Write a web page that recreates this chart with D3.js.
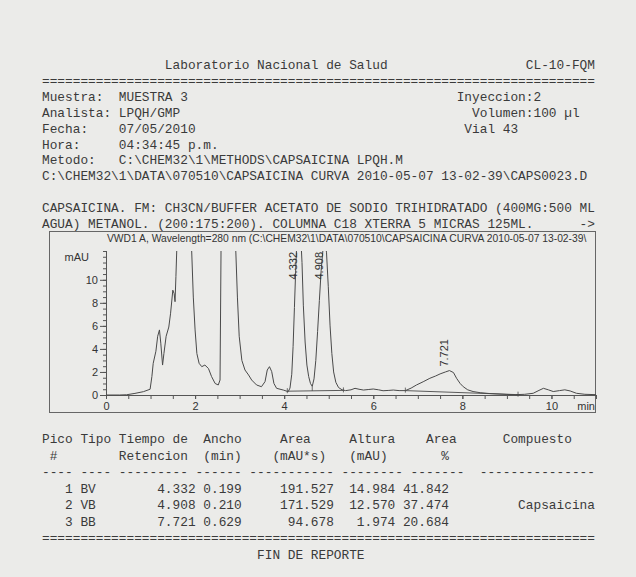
<!DOCTYPE html>
<html>
<head>
<meta charset="utf-8">
<script src="https://cdn.jsdelivr.net/npm/d3@7"></script>
<style>
  body { margin: 0; background: #ebebe9; }
  svg { display: block; }
  .mono { font-family: "Liberation Mono", "Courier New", monospace; font-size: 12.8px; fill: #3a3a3a; white-space: pre; }
  .sans { font-family: "Liberation Sans", Arial, sans-serif; fill: #333; }
</style>
</head>
<body>
<svg id="rep" width="636" height="577"></svg>
<script>
// report header lines (left column / right column)
const headerLeft = [
  "Muestra:  MUESTRA 3",
  "Analista: LPQH/GMP",
  "Fecha:    07/05/2010",
  "Hora:     04:34:45 p.m.",
  "Metodo:   C:\\CHEM32\\1\\METHODS\\CAPSAICINA LPQH.M",
  "C:\\CHEM32\\1\\DATA\\070510\\CAPSAICINA CURVA 2010-05-07 13-02-39\\CAPS0023.D"
];
const headerRight = ["Inyeccion:2", "  Volumen:100 µl", " Vial 43"];
const methodLines = [
  "CAPSAICINA. FM: CH3CN/BUFFER ACETATO DE SODIO TRIHIDRATADO (400MG:500 ML",
  "AGUA) METANOL. (200:175:200). COLUMNA C18 XTERRA 5 MICRAS 125ML.      ->"
];
const chartTitle = "VWD1 A, Wavelength=280 nm (C:\\CHEM32\\1\\DATA\\070510\\CAPSAICINA CURVA 2010-05-07 13-02-39\\";

// chromatogram trace (min, mAU)
const traceTime = [0.00, 0.30, 0.46, 0.65, 0.84, 0.99, 1.03, 1.06, 1.12, 1.16, 1.20, 1.23, 1.27, 1.30, 1.35, 1.41, 1.45, 1.50, 1.53, 1.55, 1.57, 1.60, 1.75, 1.91, 1.96, 2.00, 2.04, 2.09, 2.15, 2.22, 2.30, 2.37, 2.45, 2.52, 2.56, 2.585, 2.74, 2.90, 2.95, 2.99, 3.05, 3.12, 3.20, 3.27, 3.38, 3.49, 3.57, 3.62, 3.67, 3.72, 3.77, 3.83, 3.98, 4.09, 4.13, 4.17, 4.20, 4.23, 4.26, 4.29, 4.332, 4.37, 4.40, 4.43, 4.47, 4.51, 4.55, 4.59, 4.63, 4.67, 4.71, 4.75, 4.79, 4.83, 4.87, 4.908, 4.95, 4.99, 5.03, 5.07, 5.11, 5.16, 5.22, 5.30, 5.38, 5.50, 5.59, 5.68, 5.78, 5.90, 6.00, 6.12, 6.22, 6.35, 6.45, 6.58, 6.72, 6.85, 6.97, 7.12, 7.27, 7.40, 7.50, 7.62, 7.71, 7.80, 7.87, 7.95, 8.02, 8.12, 8.24, 8.40, 8.60, 8.80, 9.00, 9.20, 9.40, 9.59, 9.72, 9.82, 9.93, 10.04, 10.18, 10.30, 10.42, 10.56, 10.75, 11.00];
const traceMAU = [0.00, 0.00, 0.02, 0.14, 0.29, 0.50, 1.60, 2.75, 3.80, 5.10, 5.65, 4.50, 2.60, 3.60, 5.10, 5.90, 7.10, 9.10, 8.80, 8.10, 10.30, 14.00, 60.00, 14.00, 8.50, 5.65, 3.60, 2.75, 2.46, 2.60, 2.30, 1.60, 1.00, 0.87, 1.30, 14.00, 80.00, 14.00, 8.50, 5.10, 3.00, 2.17, 1.74, 1.30, 0.87, 0.72, 1.16, 2.17, 2.46, 2.03, 1.00, 0.58, 0.43, 0.29, 0.60, 1.80, 4.20, 7.60, 11.00, 14.00, 15.30, 14.00, 11.50, 7.80, 4.60, 2.60, 1.60, 1.00, 0.75, 1.40, 3.00, 5.50, 8.20, 10.80, 12.60, 13.20, 12.40, 9.40, 6.00, 3.60, 2.00, 1.10, 0.65, 0.45, 0.38, 0.45, 0.58, 0.50, 0.43, 0.48, 0.52, 0.45, 0.37, 0.40, 0.43, 0.38, 0.38, 0.60, 0.87, 1.15, 1.45, 1.65, 1.83, 2.00, 2.12, 1.95, 1.45, 1.00, 0.72, 0.45, 0.30, 0.20, 0.13, 0.09, 0.05, 0.03, 0.06, 0.15, 0.40, 0.58, 0.45, 0.30, 0.38, 0.45, 0.35, 0.15, 0.06, 0.03];

// integration baselines [t1, v1, t2, v2]
const baselines = [[4.07, 0.33, 5.33, 0.40], [6.72, 0.38, 9.25, 0.03]];

// peak table
const peakNo = [1, 2, 3];
const peakType = ["BV", "VB", "BB"];
const retTime = [4.332, 4.908, 7.721];
const peakWidth = [0.199, 0.210, 0.629];
const peakArea = [191.527, 171.529, 94.678];
const peakHeight = [14.984, 12.570, 1.974];
const areaPct = [41.842, 37.474, 20.684];
const compound = ["", "Capsaicina", ""];

const xTicks = d3.range(0, 11.01, 0.5);
const xLabels = [0, 2, 4, 6, 8, 10];
const yTicks = d3.range(0, 12.51, 0.5);
const yLabels = [0, 2, 4, 6, 8, 10];

const svg = d3.select("#rep");
const left = 42;

// monospace line built from [col, text, align] pieces
function line(parts) {
  const buf = Array(72).fill(" ");
  parts.forEach(([c, t, a]) => {
    const s = String(t);
    const start = a === "r" ? c - s.length : c;
    for (let i = 0; i < s.length; i++) buf[start + i] = s[i];
  });
  return buf.join("").replace(/\s+$/, "");
}

function mono(str, y) {
  svg.append("text").attr("class", "mono")
    .attr("xml:space", "preserve")
    .attr("x", left).attr("y", y + 4)
    .text(str);
}

// header
const lh = 15.9, y0 = 65;
mono(line([[16, "Laboratorio Nacional de Salud"], [63, "CL-10-FQM"]]), y0);
mono("=".repeat(72), y0 + lh);
headerLeft.forEach((s, i) => {
  const r = headerRight[i] ? [[54, headerRight[i]]] : [];
  mono(line([[0, s]].concat(r)), y0 + lh * (2 + i));
});
methodLines.forEach((s, i) => mono(s, y0 + lh * (9 + i)));

// chart frame
const frame = { x0: 49, x1: 596, y0: 231, y1: 413 };
svg.append("rect")
  .attr("x", frame.x0 + 0.5).attr("y", frame.y0 + 0.5)
  .attr("width", frame.x1 - frame.x0 - 1).attr("height", frame.y1 - frame.y0 - 1)
  .attr("fill", "none").attr("stroke", "#666").attr("stroke-width", 1);

svg.append("text").attr("class", "sans")
  .attr("x", 107).attr("y", 242)
  .attr("font-size", "10.3px")
  .text(chartTitle);

const x = d3.scaleLinear().domain([0, 11]).range([106, 596]);
const y = d3.scaleLinear().domain([0, 12.5]).range([395, 251]);

const g = svg.append("g");

// y axis: minor then major ticks
g.append("g").attr("transform", `translate(${x(0)},0)`)
  .call(d3.axisLeft(y).tickValues(yTicks).tickSize(3).tickFormat(""))
  .call(a => a.select(".domain").remove());
g.append("g").attr("transform", `translate(${x(0)},0)`)
  .call(d3.axisLeft(y).tickValues(yLabels).tickSize(6).tickPadding(2).tickFormat(d3.format("d")))
  .call(a => a.select(".domain").remove());
g.append("line").attr("x1", x(0) + 0.5).attr("x2", x(0) + 0.5)
  .attr("y1", y(0)).attr("y2", y(12.5)).attr("stroke", "#555");

// x axis
g.append("g").attr("transform", `translate(0,${y(0)})`)
  .call(d3.axisBottom(x).tickValues(xTicks).tickSize(4).tickFormat(""))
  .call(a => a.select(".domain").remove());
g.append("g").attr("transform", `translate(0,${y(0)})`)
  .call(d3.axisBottom(x).tickValues(xLabels).tickSize(4).tickPadding(3).tickFormat(d3.format("d")))
  .call(a => a.select(".domain").remove());
g.append("line").attr("x1", x(0)).attr("x2", frame.x1)
  .attr("y1", y(0) + 0.5).attr("y2", y(0) + 0.5).attr("stroke", "#555");

g.selectAll(".tick line").attr("stroke", "#555");
g.selectAll(".tick text").attr("font-family", "'Liberation Sans', Arial, sans-serif")
  .attr("font-size", "11px").attr("fill", "#333");

svg.append("text").attr("class", "sans").attr("font-size", "11px")
  .attr("x", 89).attr("y", 261).attr("text-anchor", "end").text("mAU");
svg.append("text").attr("class", "sans").attr("font-size", "11px")
  .attr("x", 595).attr("y", 410).attr("text-anchor", "end").text("min");

// trace
svg.append("defs").append("clipPath").attr("id", "pclip")
  .append("rect").attr("x", x(0)).attr("y", y(12.5))
  .attr("width", frame.x1 - x(0)).attr("height", y(0) - y(12.5) + 2);

const pts = traceTime.map((t, i) => [t, traceMAU[i]]);
svg.append("path")
  .datum(pts)
  .attr("clip-path", "url(#pclip)")
  .attr("fill", "none").attr("stroke", "#4a4a4a").attr("stroke-width", 1)
  .attr("d", d3.line().x(d => x(d[0])).y(d => y(d[1])));

// integration baselines and boundary marks
baselines.forEach(b => {
  svg.append("line")
    .attr("x1", x(b[0])).attr("y1", y(b[1])).attr("x2", x(b[2])).attr("y2", y(b[3]))
    .attr("stroke", "#4a4a4a").attr("stroke-width", 0.9);
  [[b[0], b[1]], [b[2], b[3]]].forEach(p => {
    svg.append("line").attr("x1", x(p[0])).attr("x2", x(p[0]))
      .attr("y1", y(p[1]) - 3).attr("y2", y(p[1]) + 2)
      .attr("stroke", "#4a4a4a").attr("stroke-width", 0.8);
  });
});
// drop line at the valley between peaks 1 and 2
const vi = traceTime.indexOf(4.63);
svg.append("line").attr("x1", x(4.63)).attr("x2", x(4.63))
  .attr("y1", y(traceMAU[vi])).attr("y2", y(0.35))
  .attr("stroke", "#4a4a4a").attr("stroke-width", 0.8);

// peak labels
retTime.forEach(rt => {
  const near = pts.filter(p => Math.abs(p[0] - rt) < 0.06);
  const apex = d3.max(near, p => p[1]);
  const px = x(rt) - 1.5;
  const offScale = apex > 12.5;
  const py = offScale ? y(12.5) + 1 : y(apex) - 4;
  svg.append("text").attr("class", "sans")
    .attr("font-size", "11px")
    .attr("transform", `translate(${px},${py}) rotate(-90)`)
    .attr("text-anchor", offScale ? "end" : "start")
    .text(rt.toFixed(3));
});

// peak table
const ty = 439, tl = 16.5;
mono(line([[0, "Pico"], [5, "Tipo"], [10, "Tiempo de"], [21, "Ancho"], [31, "Area"], [40, "Altura"], [50, "Area"], [60, "Compuesto"]]), ty);
mono(line([[1, "#"], [10, "Retencion"], [21, "(min)"], [30, "(mAU*s)"], [40, "(mAU)"], [52, "%"]]), ty + tl);
mono(line([[0, "----"], [5, "----"], [10, "-".repeat(9)], [20, "-".repeat(6)], [27, "-".repeat(11)], [39, "-".repeat(8)], [48, "-".repeat(7)], [57, "-".repeat(15)]]), ty + tl * 2);
peakNo.forEach((n, i) => {
  mono(line([
    [4, n, "r"], [5, peakType[i]],
    [20, retTime[i].toFixed(3), "r"], [26, peakWidth[i].toFixed(3), "r"],
    [38, peakArea[i].toFixed(3), "r"], [46, peakHeight[i].toFixed(3), "r"],
    [53, areaPct[i].toFixed(3), "r"], [72, compound[i], "r"]
  ]), ty + tl * (3 + i));
});
mono("=".repeat(72), ty + tl * 6);
mono(line([[28, "FIN DE REPORTE"]]), ty + tl * 7);
</script>
</body>
</html>
